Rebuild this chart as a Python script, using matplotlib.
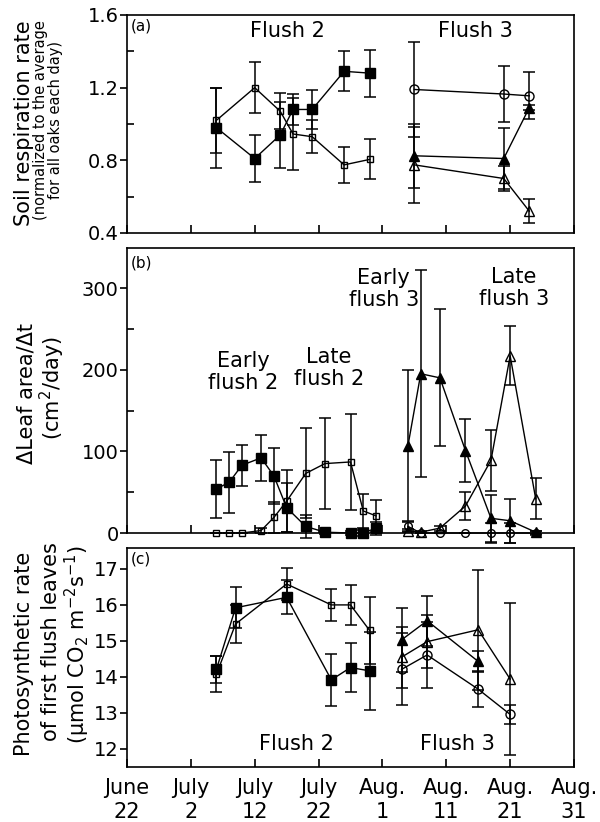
import matplotlib
matplotlib.use('Agg')
import matplotlib.pyplot as plt
from matplotlib.ticker import MultipleLocator

plt.rcParams['font.family'] = ['DejaVu Sans']
plt.rcParams['mathtext.default'] = 'regular'

# days since June 22
x_ticks = [0, 10, 20, 30, 40, 50, 60, 70]
x_labels = ['June\n22', 'July\n2', 'July\n12', 'July\n22',
            'Aug.\n1', 'Aug.\n11', 'Aug.\n21', 'Aug.\n31']

# (a) soil respiration
a_f2_days = [14, 20, 24, 26, 29, 34, 38]
a_early2 = [0.98, 0.81, 0.94, 1.08, 1.08, 1.29, 1.28]
a_early2_err = [0.22, 0.13, 0.18, 0.085, 0.107, 0.11, 0.13]
a_late2 = [1.02, 1.20, 1.07, 0.945, 0.93, 0.775, 0.805]
a_late2_err = [0.18, 0.14, 0.10, 0.20, 0.09, 0.10, 0.11]
a_f3_days = [45, 59, 63]
a_circ = [1.19, 1.165, 1.155]
a_circ_err = [0.26, 0.155, 0.13]
a_early3 = [0.825, 0.81, 1.09]
a_early3_err = [0.175, 0.17, 0.015]
a_late3 = [0.775, 0.70, 0.52]
a_late3_err = [0.21, 0.07, 0.065]

# (b) leaf area growth
b_f2_days = [14, 16, 18, 21, 23, 25, 28, 31, 35, 37, 39]
b_early2 = [54, 62, 83, 92, 70, 31, 8, 1, 0, 0, 6]
b_early2_err = [36, 37, 25, 28, 34, 30, 14, 2, 2, 4, 8]
b_late2 = [0, 0, 0, 3, 19, 39, 73, 85, 87, 27, 21]
b_late2_err = [0, 0, 0, 3, 19, 38, 55, 56, 59, 21, 20]
b_f3_days = [44, 46, 49, 53, 57, 60, 64]
b_early3 = [107, 195, 190, 101, 18, 15, 1]
b_early3_err = [92, 127, 84, 38, 29, 27, 2]
b_late3 = [3, 1, 6, 33, 89, 217, 42]
b_late3_err = [2, 1, 3, 17, 37, 36, 25]
b_circ = [8, 0, 0, 0, 0, 0, 0]
b_circ_err = [6, 0, 0, 0, 12, 12, 2]

# (c) photosynthesis of first flush leaves
c_f2_days = [14, 17, 25, 32, 35, 38]
c_early2 = [14.21, 15.92, 16.21, 13.92, 14.26, 14.17]
c_early2_err = [0.37, 0.57, 0.47, 0.72, 0.68, 1.08]
c_late2 = [14.07, 15.47, 16.58, 16.0, 16.0, 15.29]
c_late2_err = [0.5, 0.52, 0.44, 0.44, 0.55, 0.94]
c_early3_days = [43, 47, 55]
c_early3 = [15.03, 15.56, 14.43]
c_early3_err = [0.88, 0.7, 0.3]
c_f3_days = [43, 47, 55, 60]
c_late3 = [14.55, 14.98, 15.31, 13.94]
c_late3_err = [0.85, 0.74, 1.66, 2.1]
c_circ = [14.21, 14.61, 13.66, 12.96]
c_circ_err = [1.0, 0.92, 0.5, 0.27]

W, H = 600, 822


def box(l, t, r, b):
    return [l / W, 1 - b / H, (r - l) / W, (b - t) / H]


def series(ax, x, y, err, marker, filled, ms):
    eb = ax.errorbar(x, y, yerr=err, fmt='none', ecolor='black',
                     elinewidth=1.1, capsize=4.5, capthick=1.1)
    for art in list(eb.lines[1]) + list(eb.lines[2]):
        art.set_clip_on(False)
    ax.plot(x, y, color='black', lw=1, marker=marker, ms=ms,
            mfc='black' if filled else 'none', mec='black', mew=1,
            clip_on=False)


fig = plt.figure(figsize=(6, 8.22), dpi=100)
axa = fig.add_axes(box(127, 15, 574, 233))
axb = fig.add_axes(box(127, 248, 574, 533))
axc = fig.add_axes(box(127, 548, 574, 767))

for ax in (axa, axb, axc):
    ax.set_xlim(0, 70)
    ax.set_xticks(x_ticks)
    ax.tick_params(axis='x', direction='in', length=6, width=1.2)
    ax.tick_params(axis='y', which='major', direction='out', length=5,
                   width=1.2, pad=1, labelsize=14)
    ax.tick_params(axis='y', which='minor', direction='in', length=5,
                   width=1.2)
    for sp in ax.spines.values():
        sp.set_linewidth(1.2)

axa.set_xticklabels([])
axb.set_xticklabels([])
axc.set_xticklabels(x_labels, fontsize=15, linespacing=1.25)
axc.tick_params(axis='x', pad=8)

# (a)
series(axa, a_f2_days, a_early2, a_early2_err, 's', True, 6.5)
series(axa, a_f2_days, a_late2, a_late2_err, 's', False, 5)
series(axa, a_f3_days, a_circ, a_circ_err, 'o', False, 6.5)
series(axa, a_f3_days, a_early3, a_early3_err, '^', True, 6.5)
series(axa, a_f3_days, a_late3, a_late3_err, '^', False, 7.5)
axa.set_ylim(0.4, 1.6)
axa.set_yticks([0.4, 0.8, 1.2, 1.6])
axa.yaxis.set_minor_locator(MultipleLocator(0.2))
axa.text(0.008, 0.985, '(a)', transform=axa.transAxes, fontsize=11,
         ha='left', va='top')
axa.text(25.2, 1.512, 'Flush 2', fontsize=15, ha='center', va='center')
axa.text(54.5, 1.512, 'Flush 3', fontsize=15, ha='center', va='center')

# (b)
series(axb, b_f2_days, b_early2, b_early2_err, 's', True, 6.5)
series(axb, b_f2_days, b_late2, b_late2_err, 's', False, 4.5)
series(axb, b_f3_days, b_circ, b_circ_err, 'o', False, 5.5)
series(axb, b_f3_days, b_early3, b_early3_err, '^', True, 6.5)
series(axb, b_f3_days, b_late3, b_late3_err, '^', False, 7.5)
axb.set_ylim(0, 349)
axb.set_yticks([0, 100, 200, 300])
axb.yaxis.set_minor_locator(MultipleLocator(50))
axb.text(0.008, 0.975, '(b)', transform=axb.transAxes, fontsize=11,
         ha='left', va='top')
axb.text(18.2, 197, 'Early\nflush 2', fontsize=15, ha='center',
         va='center', linespacing=1.1)
axb.text(31.6, 202, 'Late\nflush 2', fontsize=15, ha='center',
         va='center', linespacing=1.1)
axb.text(40.2, 299, 'Early\nflush 3', fontsize=15, ha='center',
         va='center', linespacing=1.1)
axb.text(60.6, 300, 'Late\nflush 3', fontsize=15, ha='center',
         va='center', linespacing=1.1)

# (c)
series(axc, c_f2_days, c_early2, c_early2_err, 's', True, 6.5)
series(axc, c_f2_days, c_late2, c_late2_err, 's', False, 5)
series(axc, c_f3_days, c_circ, c_circ_err, 'o', False, 6.5)
series(axc, c_early3_days, c_early3, c_early3_err, '^', True, 6.5)
series(axc, c_f3_days, c_late3, c_late3_err, '^', False, 7.5)
axc.set_ylim(11.5, 17.58)
axc.set_yticks([12, 13, 14, 15, 16, 17])
axc.text(0.008, 0.985, '(c)', transform=axc.transAxes, fontsize=11,
         ha='left', va='top')
axc.text(26.6, 12.14, 'Flush 2', fontsize=15, ha='center', va='center')
axc.text(51.7, 12.14, 'Flush 3', fontsize=15, ha='center', va='center')

# y axis titles
def ylab(px, py, s, size):
    fig.text(px / W, 1 - py / H, s, rotation=90, ha='center', va='center',
             fontsize=size)

ylab(24, 123, 'Soil respiration rate', 15)
ylab(41, 120, '(normalized to the average', 10.5)
ylab(56, 120, 'for all oaks each day)', 10.5)
ylab(27, 393, 'ΔLeaf area/Δt', 15)
ylab(52, 388, '(cm$^2$/day)', 15)
ylab(24, 654, 'Photosynthetic rate', 15)
ylab(51, 642, 'of first flush leaves', 15)
ylab(77, 645, '(µmol CO$_2$ m$^{-2}$s$^{-1}$)', 15)

fig.savefig('out.png', dpi=100)
